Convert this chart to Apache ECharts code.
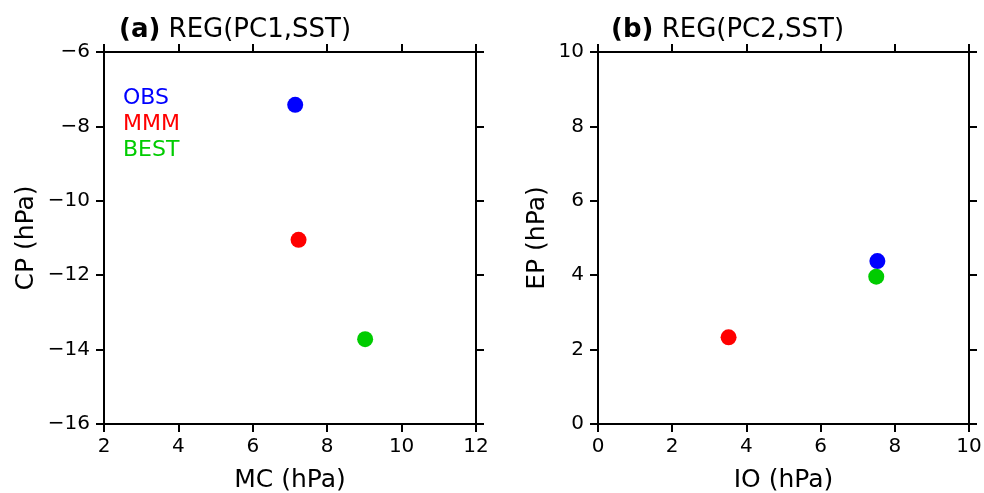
<!DOCTYPE html>
<html><head><meta charset="utf-8">
<script src="https://cdn.jsdelivr.net/npm/echarts@6/dist/echarts.min.js"></script>
<style>html,body{margin:0;padding:0;background:#fff}#c{width:984px;height:493px}</style>
</head><body><div id="c"></div>
<script>
const seriesNames = ['OBS', 'MMM', 'BEST'];
const seriesColors = ['#0000ff', '#ff0000', '#00cc00'];
// Panel (a): REG(PC1,SST)  x = MC (hPa), y = CP (hPa)
const panelA_MC = [7.14, 7.23, 9.02];
const panelA_CP = [-7.42, -11.05, -13.72];
// Panel (b): REG(PC2,SST)  x = IO (hPa), y = EP (hPa)
const panelB_IO = [7.53, 3.52, 7.50];
const panelB_EP = [4.38, 2.33, 3.96];

const FONT = 'DejaVu Sans';
const fmt = v => String(v).replace('-', '\u2212');
const line = {show: true, onZero: false, lineStyle: {color: '#000', width: 2}};
const tick = {show: true, inside: false, length: 8, lineStyle: {color: '#000', width: 2}};

function axisPair(gridIndex, isX, min, max, name, nameGap, labelMargin) {
  const main = {
    type: 'value', gridIndex, min, max, interval: 2,
    position: isX ? 'bottom' : 'left',
    name, nameLocation: 'middle', nameGap,
    nameTextStyle: {fontFamily: FONT, fontSize: 25, color: '#000'},
    axisLine: line, axisTick: tick,
    axisLabel: {show: true, formatter: fmt, fontFamily: FONT, fontSize: 20, color: '#000', margin: labelMargin},
    splitLine: {show: false}
  };
  const opp = {
    type: 'value', gridIndex, min, max, interval: 2,
    position: isX ? 'top' : 'right',
    axisLine: line, axisTick: tick,
    axisLabel: {show: false},
    splitLine: {show: false}
  };
  return [main, opp];
}

const xAxes = [
  ...axisPair(0, true, 2, 12, 'MC (hPa)', 44, 13),
  ...axisPair(1, true, 0, 10, 'IO (hPa)', 44, 13)
];
const yAxes = [
  ...axisPair(0, false, -16, -6, 'CP (hPa)', 65, 14),
  ...axisPair(1, false, 0, 10, 'EP (hPa)', 48, 14)
];

const series = [];
seriesNames.forEach((n, i) => {
  series.push({type: 'scatter', name: n, xAxisIndex: 0, yAxisIndex: 0, symbolSize: 16,
    itemStyle: {color: seriesColors[i], opacity: 1}, data: [[panelA_MC[i], panelA_CP[i]]]});
  series.push({type: 'scatter', name: n, xAxisIndex: 2, yAxisIndex: 2, symbolSize: 16,
    itemStyle: {color: seriesColors[i], opacity: 1}, data: [[panelB_IO[i], panelB_EP[i]]]});
});

const titleStyle = {fontFamily: FONT, fontSize: 26, fontWeight: 'normal', color: '#000',
  rich: {b: {fontFamily: FONT, fontSize: 26, fontWeight: 'bold', color: '#000'}}};

const chart = echarts.init(document.getElementById('c'), null, {renderer: 'canvas'});
chart.setOption({
  animation: false,
  backgroundColor: '#fff',
  title: [
    {text: '{b|(a)} REG(PC1,SST)', left: 114, top: 12, textStyle: titleStyle},
    {text: '{b|(b)} REG(PC2,SST)', left: 606, top: 12, textStyle: titleStyle}
  ],
  legend: {
    orient: 'vertical', left: 118, top: 87, itemGap: 4, itemWidth: 0, itemHeight: 0, icon: 'none',
    selectedMode: false, padding: 0,
    data: seriesNames.map((n, i) => ({name: n, textStyle: {color: seriesColors[i]}})),
    textStyle: {fontFamily: FONT, fontSize: 22, padding: [0, 0, 0, 0]}
  },
  grid: [
    {left: 104, top: 52, width: 372, height: 372, outerBoundsMode: 'none', containLabel: false},
    {left: 598, top: 52, width: 371, height: 372, outerBoundsMode: 'none', containLabel: false}
  ],
  xAxis: xAxes,
  yAxis: yAxes,
  series
});
</script></body></html>
